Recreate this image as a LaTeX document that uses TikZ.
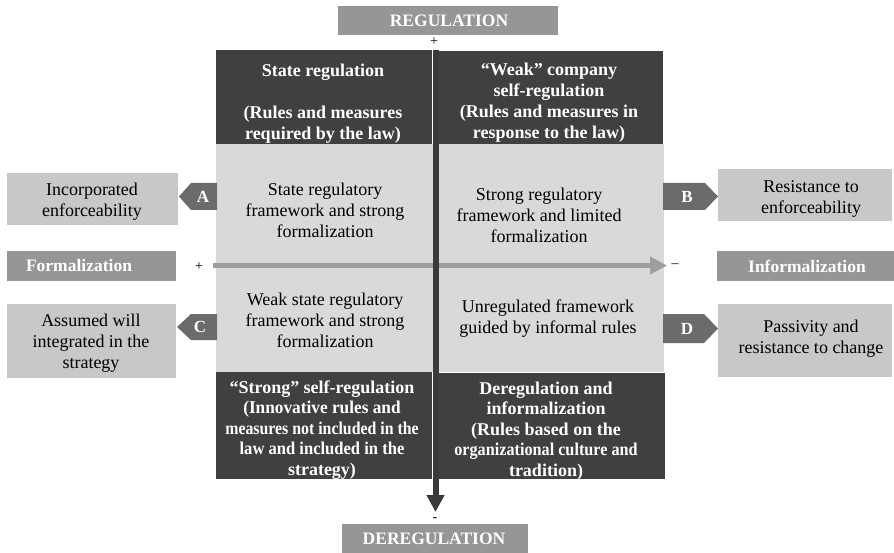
\documentclass[tikz,border=0pt]{standalone}
\usepackage{fontspec}
\usepackage{graphicx}
\setmainfont{Liberation Serif}
\usetikzlibrary{arrows.meta}
\definecolor{darkq}{HTML}{404040}
\definecolor{lightq}{HTML}{D9D9D9}
\definecolor{sidebox}{HTML}{C8C8C8}
\definecolor{titlebox}{HTML}{969696}
\definecolor{tagc}{HTML}{6B6B6B}
\definecolor{harrow}{HTML}{9E9E9E}
\definecolor{varrow}{HTML}{3A3A3A}
\tikzset{
  x=1pt, y=-1pt,
  boxbase/.style={rectangle, inner sep=0pt, outer sep=0pt, anchor=north west},
  txt/.style={align=center, inner sep=0pt, font=\fontsize{18}{21}\selectfont},
  btxt/.style={txt, font=\fontsize{18}{21}\selectfont\bfseries, text=white},
  bltxt/.style={txt, font=\fontsize{18}{20.5}\selectfont\bfseries, text=white},
  ttxt/.style={txt, font=\fontsize{17.5}{21}\selectfont\bfseries, text=white},
  tagtxt/.style={txt, font=\fontsize{17}{20}\selectfont\bfseries, text=white},
  sign/.style={inner sep=0pt, font=\fontsize{14}{14}\selectfont},
}
\newcommand{\boxat}[6]{% name, color, x1, y1, x2, y2
  \node[boxbase, fill=#2, minimum width={#5-#3}, minimum height={#6-#4}] (#1) at (#3,#4) {};}
\newcommand{\squeeze}[2]{\scalebox{#1}[1]{#2}}
\begin{document}
\begin{tikzpicture}
\useasboundingbox (0,0) rectangle (894,553);
% light central region
\boxat{mid}{lightq}{216}{144}{664}{372}
% dark quadrant boxes
\boxat{q1}{darkq}{216}{50}{432}{144}
\boxat{q2}{darkq}{439}{51}{663}{144}
\boxat{q3}{darkq}{216}{372}{432}{479}
\boxat{q4}{darkq}{439}{373}{665}{479}
% title boxes
\boxat{reg}{titlebox}{338}{6}{558}{35}
\boxat{dereg}{titlebox}{342}{524}{528}{553}
\boxat{form}{titlebox}{7}{251}{176}{281}
\boxat{inform}{titlebox}{717}{251}{894}{281}
% side boxes
\boxat{sa}{sidebox}{7}{173}{178}{225}
\boxat{sc}{sidebox}{7}{304}{176}{378}
\boxat{sb}{sidebox}{718}{169}{892}{221}
\boxat{sd}{sidebox}{718}{304}{892}{377}
% tags
\fill[tagc] (217,183) -- (191,183) -- (179,196.5) -- (191,210) -- (217,210) -- cycle;
\fill[tagc] (217,314) -- (191,314) -- (177,327) -- (191,340) -- (217,340) -- cycle;
\fill[tagc] (663,183) -- (705,183) -- (718,196.5) -- (705,210) -- (663,210) -- cycle;
\fill[tagc] (663,314) -- (704,314) -- (718,328.5) -- (704,343) -- (663,343) -- cycle;
\node[tagtxt] (tA) at (203,197) {A};
\node[tagtxt] (tC) at (200,327) {C};
\node[tagtxt] (tB) at (687,197) {B};
\node[tagtxt] (tD) at (687,329) {D};
% title texts
\node[ttxt] (regt) at (449,21) {REGULATION};
\node[ttxt] (deregt) at (434,539) {DEREGULATION};
\node[ttxt] (formt) at (79,266) {Formalization};
\node[ttxt] (informt) at (807,266) {Informalization};
% side texts
\node[txt] (sat) at (92,202) {Incorporated\\enforceability};
\node[txt] (sct) at (91,343) {Assumed will\\integrated in the\\strategy};
\node[txt] (sbt) at (811,199) {Resistance to\\enforceability};
\node[txt] (sdt) at (811,339) {Passivity and\\resistance to change};
% light region texts
\node[txt] (m1) at (325,210) {State regulatory\\framework and strong\\formalization};
\node[txt] (m2) at (539,215) {Strong regulatory\\framework and limited\\formalization};
\node[txt] (m3) at (325,320) {Weak state regulatory\\framework and strong\\formalization};
\node[txt] (m4) at (548,319) {Unregulated framework\\guided by informal rules};
% dark texts
\node[btxt] (q1t) at (323,104) {State regulation\\[21pt](Rules and measures\\required by the law)};
\node[btxt] (q2t) at (549,103) {``Weak'' company\\self-regulation\\(Rules and measures in\\response to the law)};
\node[bltxt] (q3t) at (322,430) {``Strong'' self-regulation\\\squeeze{0.96}{(Innovative rules and}\\\squeeze{0.88}{measures not included in the}\\\squeeze{0.92}{law and included in the}\\strategy)};
\node[bltxt] (q4t) at (546,431) {Deregulation and\\informalization\\(Rules based on the\\\squeeze{0.9}{organizational culture and}\\tradition)};
% axes
\coordinate (hl) at (213,265.5);
\coordinate (hr) at (667,265.5);
\draw[harrow, line width=5pt, -{Triangle[length=17pt,width=17pt]}] (hl) -- (hr);
\coordinate (vt) at (435.5,50);
\coordinate (vb) at (435.5,512);
\draw[varrow, line width=6pt, -{Triangle[length=17pt,width=17pt]}] (vt) -- (vb);
% signs
\node[sign] (ptop) at (434,42) {+};
\node[sign] (pleft) at (199,267) {+};
\node[sign] (mright) at (675,266) {--};
\node[sign] (mbot) at (435,520) {-};
\end{tikzpicture}
\end{document}
